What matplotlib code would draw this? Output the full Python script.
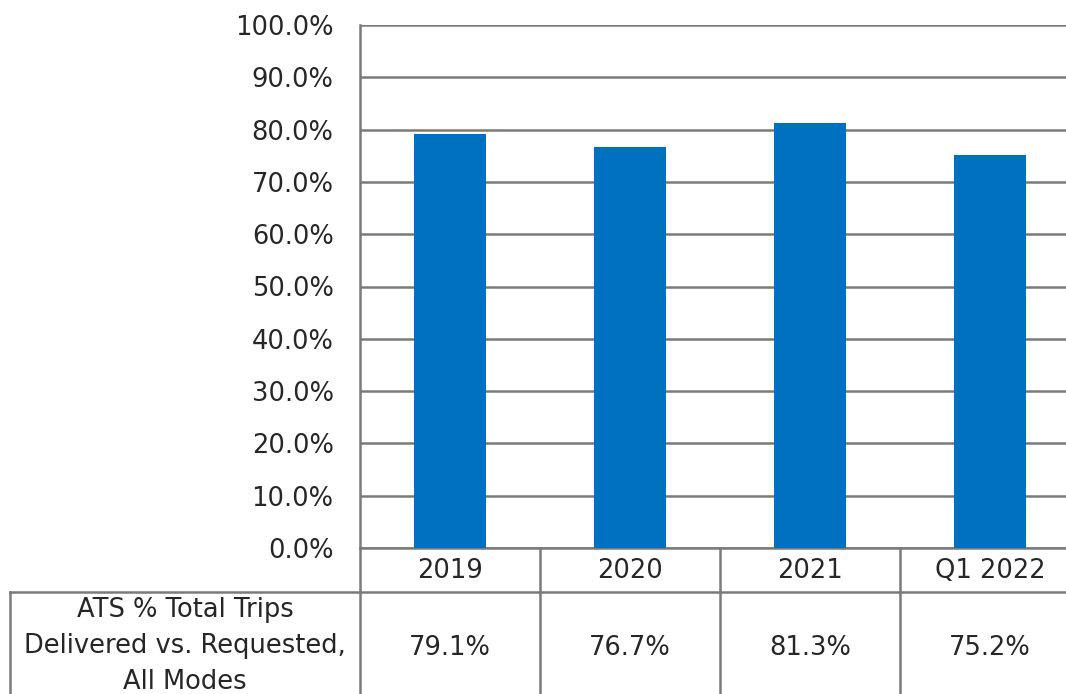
import numpy as np
import matplotlib.pyplot as plt
from matplotlib.lines import Line2D
import matplotlib.transforms as mtransforms

plt.rcParams['font.family'] = ['DejaVu Sans']

categories = ['2019', '2020', '2021', 'Q1 2022']
values = [79.1, 76.7, 81.3, 75.2]
row_label = 'ATS % Total Trips\nDelivered vs. Requested,\nAll Modes'

bar_color = '#0070C0'
line_color = '#7a7a7a'
text_color = '#262626'
fs = 18.5

W, H = 1066, 694
fig = plt.figure(figsize=(W / 100, H / 100), dpi=100)

# axes spans 360..1080 px horizontally (cut off at the right), 25..548 px vertically
ax = fig.add_axes([360 / W, (H - 548) / H, 720 / W, 523 / H])

x = np.arange(len(categories))
ax.bar(x, values, width=0.4, color=bar_color, zorder=3)

ax.set_xlim(-0.5, len(categories) - 0.5)
ax.set_ylim(0, 100)
ax.set_yticks(np.arange(0, 101, 10))
ax.set_yticklabels(['%.1f%%' % v for v in np.arange(0, 101, 10)])
ax.tick_params(axis='y', length=0, pad=19, labelsize=fs, labelcolor=text_color)
ax.set_xticks([])
ax.yaxis.grid(True, color=line_color, linewidth=1.8, zorder=0)
ax.set_axisbelow(True)
for s in ['top', 'right']:
    ax.spines[s].set_visible(False)
ax.spines['left'].set_color(line_color)
ax.spines['left'].set_linewidth(1.8)
ax.spines['bottom'].set_color(line_color)
ax.spines['bottom'].set_linewidth(1.8)

# data table below the chart
trans = mtransforms.blended_transform_factory(ax.transData, ax.transAxes)
px = 1 / 523.0
y_hdr_bot = -44 * px
y_bot = -150 * px
x_left = -0.5 - 350 / 180.0

def hline(x0, x1, y):
    ax.add_line(Line2D([x0, x1], [y, y], transform=trans, color=line_color,
                       linewidth=1.8, clip_on=False))

def vline(xx, y0, y1):
    ax.add_line(Line2D([xx, xx], [y0, y1], transform=trans, color=line_color,
                       linewidth=1.8, clip_on=False))

hline(x_left, len(categories), y_hdr_bot)
vline(x_left, y_hdr_bot, y_bot)
vline(-0.5, 0, y_bot)
for b in np.arange(0.5, len(categories), 1):
    vline(b, 0, y_bot)

for xi, cat, v in zip(x, categories, values):
    ax.text(xi, -23 * px, cat, transform=trans, ha='center', va='center',
            fontsize=fs, color=text_color)
    ax.text(xi, -100 * px, '%.1f%%' % v, transform=trans, ha='center',
            va='center', fontsize=fs, color=text_color)

ax.text((x_left - 0.5) / 2, -98 * px, row_label, transform=trans,
        ha='center', va='center', fontsize=fs, color=text_color,
        linespacing=1.48)

fig.savefig('out.png', dpi=100)
